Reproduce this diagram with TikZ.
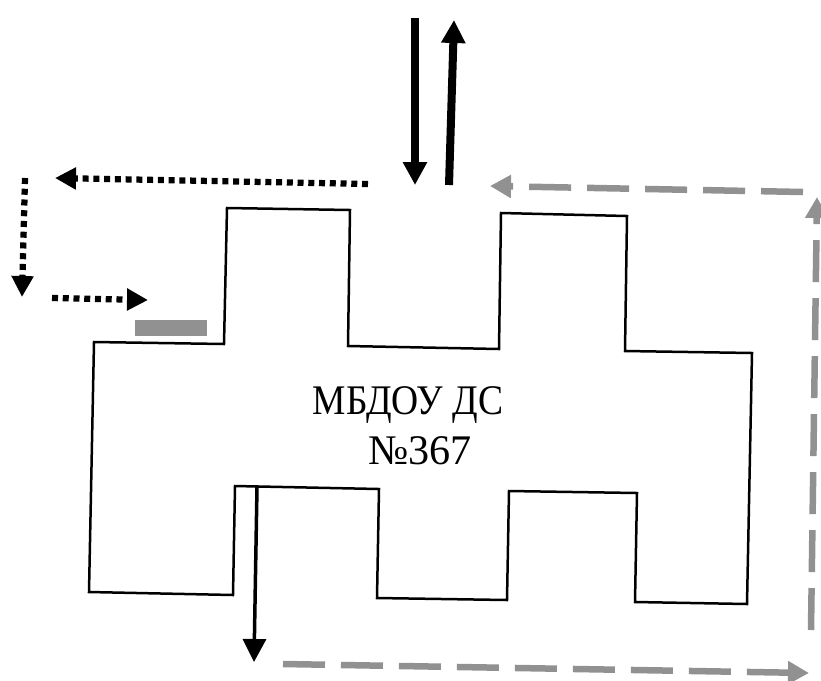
\documentclass[tikz,border=0pt]{standalone}
\usepackage{graphicx}
\usepackage{fontspec}
\setmainfont{Liberation Serif}
\usetikzlibrary{arrows.meta, positioning}
\definecolor{routegray}{RGB}{145, 145, 145}

\begin{document}
\begin{tikzpicture}[
  x=0.02cm, y=-0.02cm,
  wall/.style={draw=black, line width=0.05cm, line join=miter},
  label/.style={align=center, font=\fontsize{24}{28.4}\selectfont, inner sep=0pt},
  solidway/.style={draw=black, line width=0.16cm, -{Triangle[length=0.46cm, width=0.46cm]}},
  thinway/.style={draw=black, line width=0.07cm, -{Triangle[length=0.46cm, width=0.46cm]}},
  dotway/.style={draw=black, line width=0.125cm, dash pattern=on 0.12cm off 0.095cm, -{Triangle[length=0.42cm, width=0.42cm]}},
  grayway/.style={draw=routegray, line width=0.13cm, dash pattern=on 0.84cm off 0.32cm, -{Triangle[length=0.42cm, width=0.44cm]}},
  gate/.style={fill=routegray, minimum width=1.44cm, minimum height=0.32cm, inner sep=0pt}
]
  \useasboundingbox (0, 0) rectangle (821, 680);
  % building outline
  \draw[wall] (94, 342) -- (224, 344) -- (227, 208) -- (350, 210) -- (348, 346) -- (499, 349)
    -- (501, 213) -- (627, 216) -- (625, 351) -- (752, 353) -- (747, 604) -- (635, 602)
    -- (637, 493) -- (509, 491) -- (507, 600) -- (377, 598) -- (379, 489) -- (235, 486)
    -- (233, 595) -- (89, 592) -- cycle;
  \node[label] (school) at (408, 426) {\scalebox{0.89}[1]{МБДОУ ДС}\\\hspace{0.48cm}№367};
  \node[gate] (gate) at (171, 328) {};

  \coordinate (inA) at (415, 18);
  \coordinate (inB) at (415, 185);
  \coordinate (outA) at (449, 185);
  \coordinate (outB) at (454, 20);
  \coordinate (dotA) at (368, 184);
  \coordinate (dotB) at (55, 178);
  \coordinate (dotC) at (25, 178);
  \coordinate (dotD) at (22, 297);
  \coordinate (dotE) at (52, 298);
  \coordinate (dotF) at (148, 300);
  \coordinate (exitA) at (257, 487);
  \coordinate (exitB) at (254, 662);
  \coordinate (grayA) at (283, 664);
  \coordinate (grayB) at (809, 673);
  \coordinate (grayC) at (811, 630);
  \coordinate (grayD) at (817, 197);
  \coordinate (grayE) at (803, 192);
  \coordinate (grayF) at (490, 186);

  \draw[solidway] (inA) -- (inB);
  \draw[solidway] (outA) -- (outB);
  \draw[dotway] (dotA) -- (dotB);
  \draw[dotway] (dotC) -- (dotD);
  \draw[dotway] (dotE) -- (dotF);
  \draw[thinway] (exitA) -- (exitB);
  \draw[grayway] (grayA) -- (grayB);
  \draw[grayway] (grayC) -- (grayD);
  \draw[grayway] (grayE) -- (grayF);
\end{tikzpicture}
\end{document}
